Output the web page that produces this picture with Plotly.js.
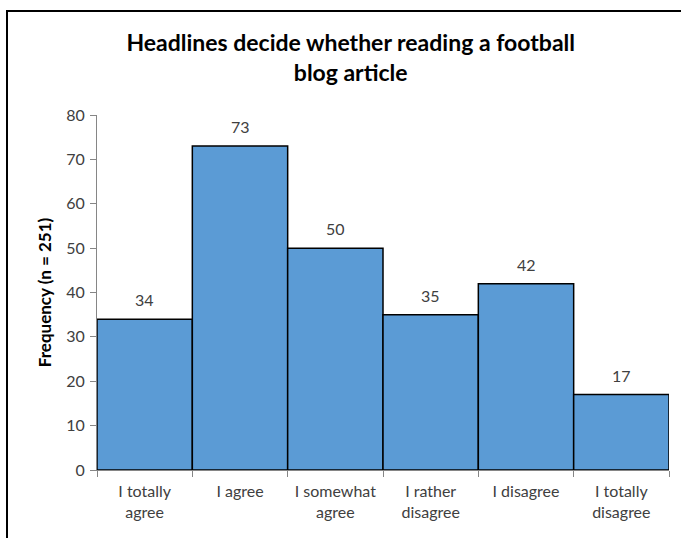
<!DOCTYPE html>
<html>
<head>
<meta charset="utf-8">
<script src="https://cdn.plot.ly/plotly-3.0.1.min.js"></script>
<style>
  html, body { margin: 0; padding: 0; background: #fff; }
  #chart { width: 681px; height: 538px; }
  #frame { position: absolute; left: 6px; top: 10px; width: 700px; height: 600px;
           border-left: 2px solid #000; border-top: 2px solid #000; pointer-events: none; }
</style>
</head>
<body>
<div id="chart"></div>
<div id="frame"></div>
<script>
const categories = ["I totally<br>agree", "I agree", "I somewhat<br>agree", "I rather<br>disagree", "I disagree", "I totally<br>disagree"];
const frequencies = [34, 73, 50, 35, 42, 17];
const yTicks = [0, 10, 20, 30, 40, 50, 60, 70, 80];

const FONT = "Lato, 'Noto Sans', sans-serif";

const trace = {
  type: "bar",
  x: categories,
  y: frequencies,
  marker: { color: "#5B9BD5", line: { color: "#000000", width: 1.5 } },
  hoverinfo: "none"
};

const valueLabels = categories.map((c, i) => ({
  x: c,
  y: frequencies[i],
  xref: "x",
  yref: "y",
  text: String(frequencies[i]),
  showarrow: false,
  yanchor: "bottom",
  yshift: 8,
  font: { family: FONT, size: 16, color: "#404040" }
}));

const layout = {
  width: 681,
  height: 538,
  margin: { l: 97, r: 12, t: 115, b: 68 },
  paper_bgcolor: "#ffffff",
  plot_bgcolor: "#ffffff",
  bargap: 0,
  showlegend: false,
  font: { family: FONT, color: "#404040" },
  title: {
    text: "<b>Headlines decide whether reading a football<br>blog article</b>",
    x: 0.515, xanchor: "center",
    y: 0.905, yanchor: "top",
    font: { family: FONT, size: 23, color: "#000000" }
  },
  annotations: valueLabels,
  xaxis: {
    type: "category",
    tickson: "boundaries",
    ticks: "outside",
    ticklen: 6,
    tickcolor: "#868686",
    showline: true,
    linecolor: "#868686",
    linewidth: 1,
    showgrid: false,
    ticklabelstandoff: 7,
    tickfont: { family: FONT, size: 16, color: "#404040" },
    tickangle: 0
  },
  yaxis: {
    range: [0, 80],
    tickvals: yTicks,
    ticktext: yTicks.map(String),
    ticks: "outside",
    ticklen: 6,
    tickcolor: "#868686",
    showline: true,
    linecolor: "#868686",
    linewidth: 1,
    showgrid: false,
    zeroline: false,
    ticklabelstandoff: 2,
    tickfont: { family: FONT, size: 16, color: "#404040" },
    title: {
      text: "<b>Frequency (n = 251)</b>",
      font: { family: FONT, size: 17, color: "#000000" },
      standoff: 10
    }
  }
};

Plotly.newPlot("chart", [trace], layout, { displayModeBar: false, staticPlot: true });
</script>
</body>
</html>
